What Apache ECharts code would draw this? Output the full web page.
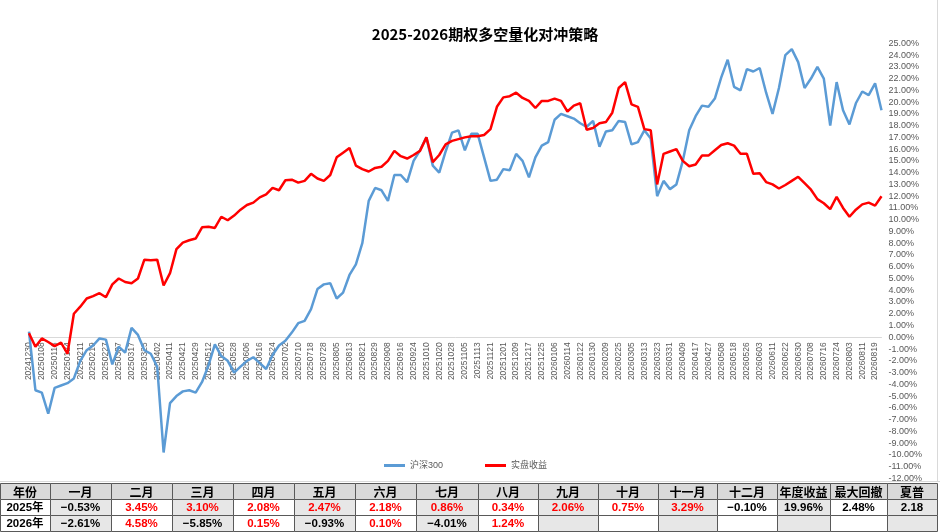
<!DOCTYPE html>
<html lang="zh">
<head>
  <meta charset="utf-8">
  <title>2025-2026期权多空量化对冲策略</title>
  <script src="https://cdn.jsdelivr.net/npm/echarts@6/dist/echarts.min.js"></script>
</head>
<body style="margin: 0">
<div id="container" style="width: 940px; height: 532px; background: #fff"></div>
<script type="text/javascript">
  // x-axis labels, one every 6 trading days (one per 2 samples below)
  var tickDates = ['20241230','20250108','20250116','20250124','20250211','20250219','20250227','20250307',
    '20250317','20250325','20250402','20250411','20250421','20250429','20250512','20250520','20250528',
    '20250606','20250616','20250624','20250702','20250710','20250718','20250728','20250805','20250813',
    '20250821','20250829','20250908','20250916','20250924','20251010','20251020','20251028','20251105',
    '20251113','20251121','20251201','20251209','20251217','20251225','20260106','20260114','20260122',
    '20260130','20260209','20260225','20260305','20260313','20260323','20260331','20260409','20260417',
    '20260427','20260508','20260518','20260526','20260603','20260611','20260622','20260630','20260708',
    '20260716','20260724','20260803','20260811','20260819'];

  // cumulative return (%), sampled every 3 trading days
  var hs300 = [0.48,-4.5,-4.7,-6.5,-4.3,-4.1,-3.9,-3.5,-2.0,-1.1,
    -0.7,-0.1,-0.2,-2.3,-0.8,-1.3,0.8,0.2,-1.1,-1.4,
    -2.5,-9.8,-5.6,-5.0,-4.6,-4.5,-4.7,-3.8,-2.4,-0.6,
    -1.6,-2.0,-3.0,-2.5,-2.0,-1.7,-2.2,-2.7,-1.5,-0.7,
    -0.3,0.4,1.2,1.4,2.4,4.1,4.5,4.6,3.3,3.8,
    5.3,6.2,8.0,11.6,12.7,12.5,11.6,13.8,13.8,13.2,
    15.0,15.9,17.0,14.6,14.0,15.8,17.4,17.6,15.9,17.3,
    17.3,15.3,13.3,13.4,14.3,14.2,15.6,15.0,13.6,15.3,
    16.3,16.6,18.5,19.0,18.8,18.6,18.2,17.9,18.4,16.2,
    17.5,17.6,18.4,18.3,16.4,16.6,17.6,16.9,12.0,13.3,
    12.6,13.0,15.0,17.6,18.8,19.7,19.6,20.3,22.1,23.6,
    21.3,21.0,22.8,22.6,22.9,20.8,19.0,21.2,24.0,24.5,
    23.4,21.2,22.0,23.0,22.0,18.0,21.7,19.3,18.1,19.9,
    20.9,20.6,21.6,19.3];
  var shipan = [0.35,-0.8,-0.1,-0.4,-0.75,-0.45,-1.4,2.0,2.6,3.3,
    3.5,3.75,3.4,4.5,5.0,4.7,4.6,5.0,6.6,6.55,
    6.6,4.4,5.45,7.5,8.05,8.25,8.4,9.35,9.4,9.3,
    10.25,9.95,10.35,10.85,11.25,11.45,11.9,12.15,12.7,12.5,
    13.35,13.4,13.15,13.3,13.9,13.5,13.3,13.8,15.3,15.7,
    16.1,14.6,14.3,14.1,14.4,14.5,15.0,15.85,15.4,15.2,
    15.5,15.85,17.0,14.9,15.5,16.4,16.7,16.85,17.0,17.1,
    17.1,17.2,17.7,19.6,20.4,20.5,20.8,20.35,20.1,19.5,
    20.1,20.1,20.3,20.1,19.2,19.7,19.9,17.65,17.8,18.2,
    18.3,19.1,21.2,21.7,19.8,19.6,17.7,17.6,13.0,15.6,
    15.8,16.0,15.0,14.55,14.7,15.45,15.45,15.9,16.35,16.5,
    16.3,15.6,15.6,13.9,13.95,13.2,13.0,12.65,12.95,13.3,
    13.65,13.1,12.55,11.75,11.4,10.9,11.95,11.0,10.25,10.85,
    11.3,11.45,11.2,12.0];

  // monthly table
  var tableHead = ['年份','一月','二月','三月','四月','五月','六月','七月','八月','九月','十月',
    '十一月','十二月','年度收益','最大回撤','夏普'];
  var years = ['2025年', '2026年'];
  var ret2025 = [-0.53, 3.45, 3.10, 2.08, 2.47, 2.18, 0.86, 0.34, 2.06, 0.75, 3.29, -0.10];
  var ret2026 = [-2.61, 4.58, -5.85, 0.15, -0.93, 0.10, -4.01, 1.24];
  var stats2025 = ['19.96%', '2.48%', '2.18'];

  var categories = hs300.map(function (v, i) { return String(i); });

  // table layout
  var colX = [0, 50, 111, 172, 233, 294, 355, 416, 478, 538, 598, 658, 717, 777, 830, 887, 937];
  var rowY = [483, 499, 515, 531];

  function pct(v) {
    return (v < 0 ? '\u2212' : '') + Math.abs(v).toFixed(2) + '%';
  }

  var rows = [
    tableHead.map(function (t) { return { text: t, color: '#000' }; }),
    [{ text: years[0], color: '#000' }].concat(
      ret2025.map(function (v) { return { text: pct(v), color: v > 0 ? '#ff0000' : '#000' }; }),
      stats2025.map(function (t) { return { text: t, color: '#000' }; })),
    [{ text: years[1], color: '#000' }].concat(
      ret2026.map(function (v) { return { text: pct(v), color: v > 0 ? '#ff0000' : '#000' }; }))
  ];

  var graphics = [
    { type: 'line', shape: { x1: 0, y1: 481.5, x2: 940, y2: 481.5 }, style: { stroke: '#d9d9d9', lineWidth: 1 } },
    { type: 'line', shape: { x1: 937.5, y1: 0, x2: 937.5, y2: 482 }, style: { stroke: '#d9d9d9', lineWidth: 1 } }
  ];
  for (var r = 0; r < 3; r++) {
    for (var c = 0; c < colX.length - 1; c++) {
      var fill = r === 0 ? '#d9d9d9' : (c % 2 === 1 ? '#e7e7e7' : '#ffffff');
      graphics.push({
        type: 'rect',
        z: 100,
        shape: { x: colX[c] + 0.5, y: rowY[r] + 0.5, width: colX[c + 1] - colX[c], height: rowY[r + 1] - rowY[r] },
        style: { fill: fill, stroke: '#595959', lineWidth: 1 }
      });
      var cell = rows[r][c];
      if (cell && cell.text) {
        graphics.push({
          type: 'text',
          x: (colX[c] + colX[c + 1]) / 2,
          y: (rowY[r] + rowY[r + 1]) / 2 + 1,
          z: 101,
          style: {
            text: cell.text,
            fill: cell.color,
            align: 'center',
            verticalAlign: 'middle',
            fontSize: r === 0 ? 12 : 11.5,
            fontWeight: 'bold',
            fontFamily: r === 0 ? 'Noto Sans CJK SC' : 'Liberation Sans, Noto Sans CJK SC'
          }
        });
      }
    }
  }

  var dom = document.getElementById('container');
  var myChart = echarts.init(dom);
  var option = {
    animation: false,
    textStyle: { fontFamily: 'Liberation Sans, Noto Sans CJK SC' },
    title: {
      text: '2025-2026期权多空量化对冲策略',
      left: 480,
      top: 22,
      textAlign: 'center',
      textStyle: { fontSize: 15, fontWeight: 'bold', color: '#000', fontFamily: 'Noto Sans CJK SC' }
    },
    legend: {
      left: 379,
      top: 456,
      icon: 'rect',
      itemWidth: 21,
      itemHeight: 3,
      itemGap: 42,
      textStyle: { fontSize: 9, color: '#595959' },
      data: ['沪深300', '实盘收益']
    },
    grid: { left: 29, right: 58.5, top: 43.3, bottom: 53.6 },
    xAxis: {
      type: 'category',
      data: categories,
      boundaryGap: false,
      position: 'bottom',
      // axis sits on the 0% line, 12% above the grid bottom
      offset: -141.1,
      axisLine: { onZero: false, lineStyle: { color: '#d9d9d9', width: 1 } },
      axisTick: { show: false },
      axisLabel: {
        interval: 1,
        rotate: 90,
        margin: 5,
        fontSize: 8.5,
        color: '#595959',
        formatter: function (v, i) { return tickDates[i / 2] || ''; }
      },
      splitLine: { show: false }
    },
    yAxis: {
      type: 'value',
      position: 'right',
      min: -12,
      max: 25,
      interval: 1,
      axisLine: { show: false },
      axisTick: { show: false },
      splitLine: { show: false },
      axisLabel: {
        margin: 7,
        fontSize: 9,
        color: '#595959',
        formatter: function (v) { return v.toFixed(2) + '%'; }
      }
    },
    series: [
      {
        name: '沪深300',
        type: 'line',
        data: hs300,
        showSymbol: false,
        color: '#5b9bd5',
        lineStyle: { width: 2.5, color: '#5b9bd5' }
      },
      {
        name: '实盘收益',
        type: 'line',
        data: shipan,
        showSymbol: false,
        color: '#ff0000',
        lineStyle: { width: 2.5, color: '#ff0000' }
      }
    ],
    graphic: graphics
  };

  myChart.setOption(option);
</script>
</body>
</html>
